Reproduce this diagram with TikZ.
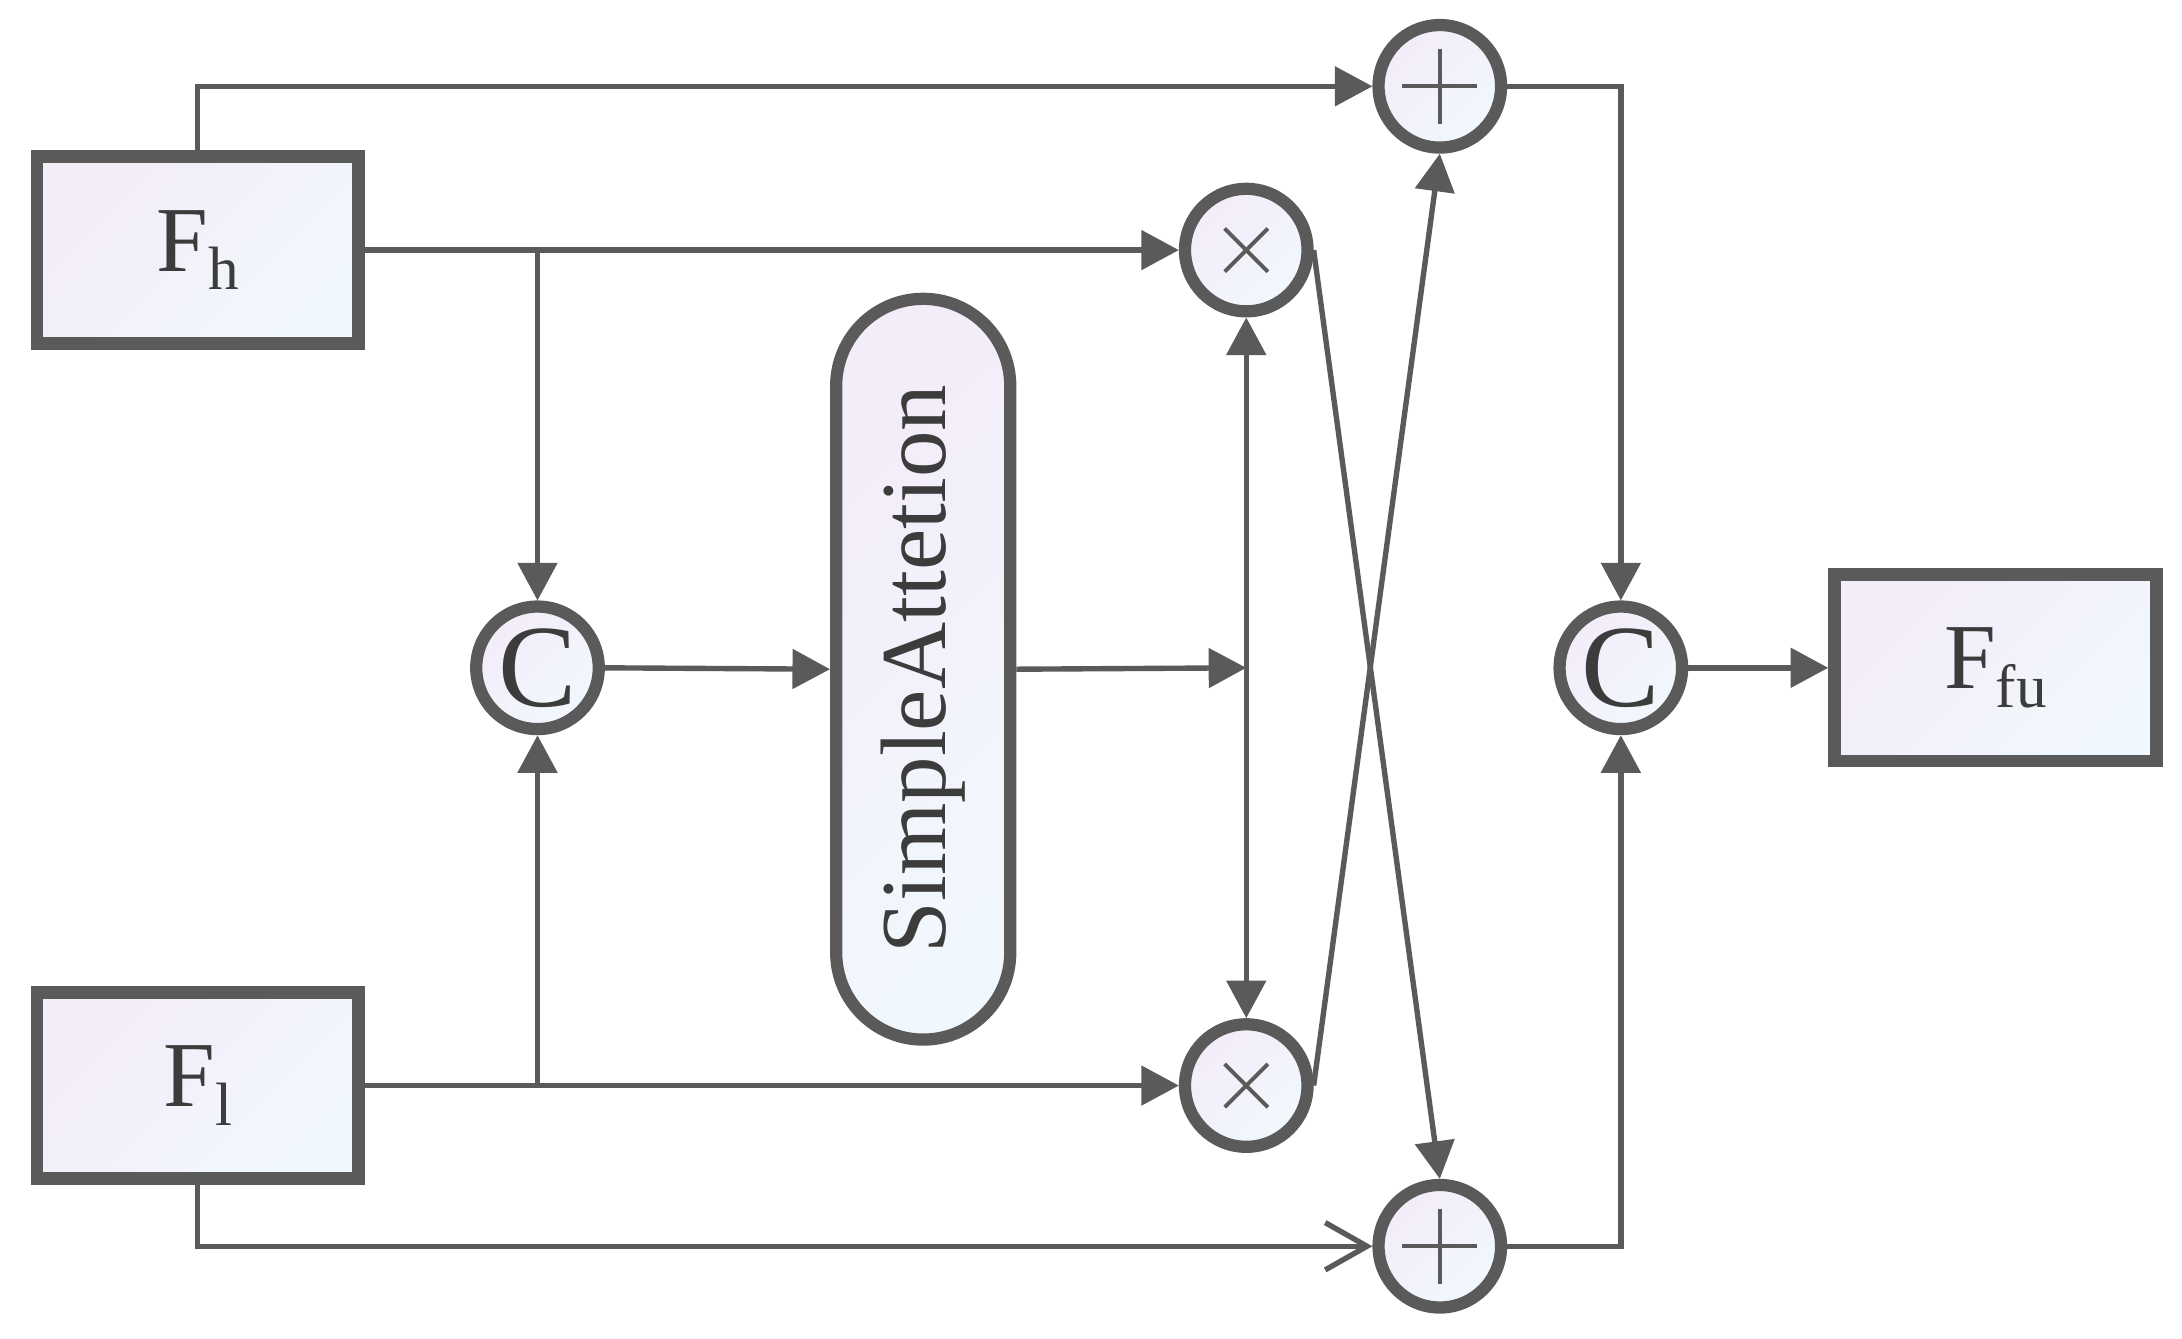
\documentclass[tikz,border=0pt]{standalone}
\usepackage{fontspec}
\setmainfont{Liberation Serif}
\usetikzlibrary{arrows.meta,calc}
\definecolor{lc}{HTML}{5A5A5A}
\definecolor{tc}{HTML}{3C3C3C}
\definecolor{lav}{HTML}{F3ECF9}
\definecolor{blu}{HTML}{F1F8FD}
\tikzset{
  gfill/.style={top color=lav, bottom color=blu, shading angle=45},
  fbox/.style={draw=lc, line width=2.6pt, gfill, minimum width=2.31cm, minimum height=1.34cm, inner sep=0pt, text=tc},
  opc/.style={circle, draw=lc, line width=2.5pt, gfill, minimum size=0.88cm, inner sep=0pt, text=tc},
  plusop/.style={opc, path picture={
      \draw[lc, line width=0.8pt] ($(path picture bounding box.center)+(-0.27,0)$) -- ++(0.54,0);
      \draw[lc, line width=0.8pt] ($(path picture bounding box.center)+(0,-0.27)$) -- ++(0,0.54);}},
  timesop/.style={opc, path picture={
      \draw[lc, line width=0.8pt] ($(path picture bounding box.center)+(-0.155,-0.155)$) -- ++(0.31,0.31);
      \draw[lc, line width=0.8pt] ($(path picture bounding box.center)+(-0.155,0.155)$) -- ++(0.31,-0.31);}},
  catop/.style={opc, font=\fontsize{24}{27}\selectfont},
  pillbox/.style={draw=lc, line width=2.5pt, gfill, minimum width=1.25cm, minimum height=5.32cm, rounded corners=0.625cm, inner sep=0pt, text=tc, font=\fontsize{19}{22}\selectfont},
  conn/.style={lc, line width=1.1pt},
  arr/.style={conn, -{Triangle[length=0.27cm, width=0.28cm]}},
  darr/.style={conn, {Triangle[length=0.27cm, width=0.28cm]}-{Triangle[length=0.27cm, width=0.28cm]}},
  oarr/.style={conn, -{Straight Barb[length=0.3cm, width=0.34cm, line width=1.1pt]}}
}
\newcommand{\lbl}[2]{{\fontsize{19}{22}\selectfont F\raisebox{-3.7pt}{\fontsize{12.5}{14}\selectfont #2}}}
\begin{document}
\begin{tikzpicture}
\useasboundingbox (0,0) rectangle (15.67,9.616);
% boxes
\node[fbox] (Fh) at (1.42,7.82) {\lbl{F}{h}};
\node[fbox] (Fl) at (1.42,1.82) {\lbl{F}{l}};
\node[fbox] (Ffu) at (14.33,4.82) {\lbl{F}{fu}};
% operators
\node[catop] (Cl) at (3.86,4.82) {C};
\node[catop] (Cr) at (11.64,4.82) {C};
\node[timesop] (Mt) at (8.95,7.82) {};
\node[timesop] (Mb) at (8.95,1.82) {};
\node[plusop] (Pt) at (10.34,8.996) {};
\node[plusop] (Pb) at (10.34,0.666) {};
\node[pillbox] (att) at (6.63,4.81) {\rotatebox{90}{SimpleAttetion}};
% junctions
\coordinate (j1) at (3.86,7.82);
\coordinate (j2) at (3.86,1.82);
\coordinate (jm) at (8.95,4.82);
% connectors
\draw[arr] (Fh.north) |- (Pt.west);
\draw[arr] (Fh.east) -- (Mt.west);
\draw[arr] (j1) -- (Cl.north);
\draw[arr] (Fl.east) -- (Mb.west);
\draw[arr] (j2) -- (Cl.south);
\draw[arr] (Cl.east) -- (att.west);
\draw[arr] (att.east) -- (jm);
\draw[darr] (Mt.south) -- (Mb.north);
\draw[arr] (Mt.east) -- (Pb.north);
\draw[arr] (Mb.east) -- (Pt.south);
\draw[oarr] (Fl.south) |- (Pb.west);
\draw[arr] (Pt.east) -| (Cr.north);
\draw[arr] (Pb.east) -| (Cr.south);
\draw[arr] (Cr.east) -- (Ffu.west);
\end{tikzpicture}
\end{document}
